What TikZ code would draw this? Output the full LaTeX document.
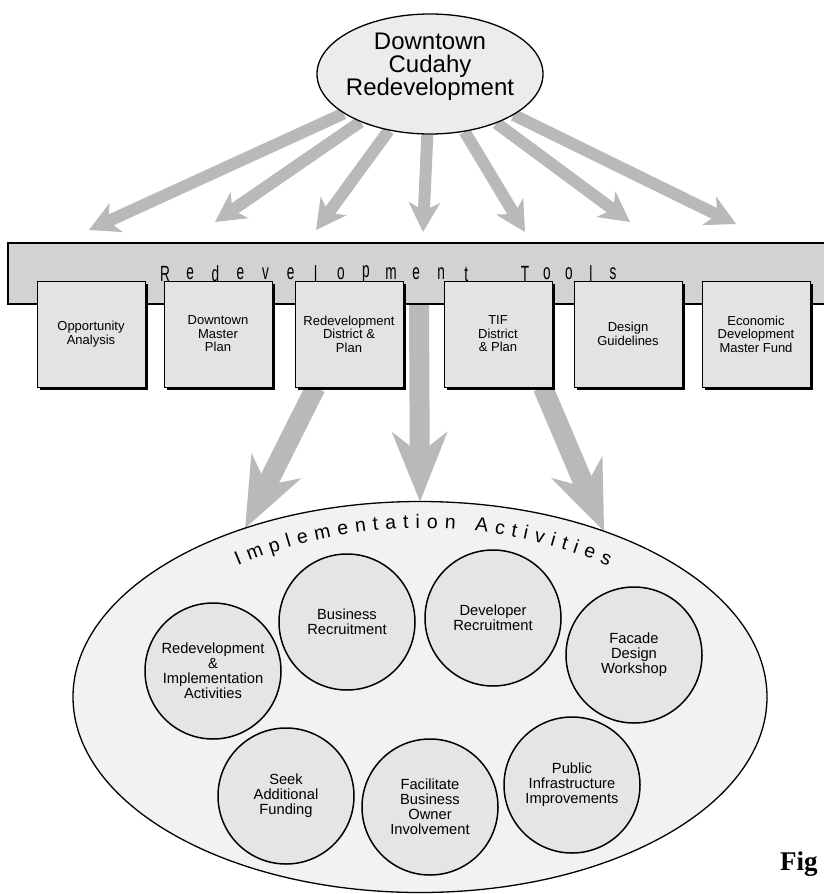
\documentclass[tikz,border=0pt]{standalone}
\usepackage{fontspec}
\setmainfont{Liberation Sans}
\newfontfamily\barfont[FakeStretch=0.62]{Liberation Sans}
\newfontfamily\figfont{Liberation Serif}
\usepackage{tikz}
\usetikzlibrary{calc, backgrounds, shapes.geometric, arrows.meta, shadows, decorations.text}
\usepackage{tkz-euclide}

\newcommand{\implfont}{\fontsize{19.5}{19.5}\selectfont}
\tikzset{
  toolbox/.style={rectangle, draw, line width=1pt, fill=gray!22, minimum width=108pt, minimum height=106pt, inner sep=1pt, align=center, font=\fontsize{13}{13.5}\selectfont, drop shadow={shadow xshift=2.5pt, shadow yshift=-2.5pt, fill=black, opacity=1}},
  actcircle/.style={circle, draw, line width=1.5pt, fill=gray!20, minimum size=136pt, inner sep=0pt, align=center, font=\fontsize{14.7}{15}\selectfont},
  fatarrow/.style={draw=gray!55, line width=12pt, -{Stealth[length=30pt, width=32pt, inset=9pt, line width=0pt]}},
  bigarrow/.style={draw=gray!55, line width=20pt, -{Stealth[length=70pt, width=56pt, inset=22pt, line width=0pt]}},
  barletter/.style={font=\barfont\fontsize{22}{22}\selectfont, inner sep=0pt}
}

\begin{document}
\begin{tikzpicture}[x=1pt, y=1pt]
        \useasboundingbox (0,0) rectangle (824,-894);
        \node[ellipse, draw, line width=1.3pt, fill=gray!15, minimum width=226pt, minimum height=120pt, inner sep=0pt] (top) at (430,-74) {};
        \node[align=center, font=\fontsize{24}{23}\selectfont, inner sep=0pt] (toptxt) at ($(top)+(0,7)$) {Downtown\\Cudahy\\Redevelopment};

        \node[draw, line width=1.2pt, fill=gray!35, minimum width=822pt, minimum height=61pt, inner sep=0pt] (bar) at (419,-273.5) {};
        \foreach \ch [count=\i] in {R,e,d,e,v,e,l,o,p,m,e,n,t} \node[barletter] (rl\i) at (140+25.1*\i,-274) {\ch};
        \foreach \ch [count=\i] in {T,o,o,l,s} \node[barletter] (tl\i) at (503+22*\i,-274) {\ch};

        \node[toolbox] (b1) at (91,-334) {Opportunity\\Analysis};
        \node[toolbox] (b2) at (218,-334) {Downtown\\Master\\Plan};
        \node[toolbox] (b3) at (349,-334) {Redevelopment\\District \&\\Plan};
        \node[toolbox] (b4) at (498,-334) {TIF\\District\\\& Plan};
        \node[toolbox] (b5) at (628,-334) {Design\\Guidelines};
        \node[toolbox] (b6) at (756,-334) {Economic\\Development\\Master Fund};

        \node[ellipse, draw, line width=1.3pt, fill=gray!10, minimum width=694pt, minimum height=391pt, inner sep=0pt, outer sep=0pt] (impl) at (420,-697) {};
        \path[decorate, decoration={text along path, text={|\implfont|Implementation Activities}, text align={fit to path}}] (237.8,-565.7) arc[start angle=113, end angle=67, radius=474];

        \node[actcircle] (c1) at (213,-671) {Redevelopment\\\&\\Implementation\\Activities};
        \node[actcircle] (c2) at (347,-622) {Business\\Recruitment};
        \node[actcircle] (c3) at (493,-618) {Developer\\Recruitment};
        \node[actcircle] (c4) at (634,-655) {Facade\\Design\\Workshop};
        \node[actcircle] (c5) at (286,-796) {Seek\\Additional\\Funding};
        \node[actcircle] (c6) at (430,-807) {Facilitate\\Business\\Owner\\Involvement};
        \node[actcircle] (c7) at (572,-785) {Public\\Infrastructure\\Improvements};

        \node[font=\figfont\bfseries\fontsize{27}{27}\selectfont, anchor=base west, inner sep=0pt] (fig) at (780,-870) {Fig};

        \tkzDefPoints{89/-230/tA,215/-222/tB,316/-230/tC,423/-232/tD,525/-232/tE,630/-222/tF,736/-224/tG}
        \begin{scope}[on background layer]
        \fill[white] (0,0) rectangle (824,-894);
        \foreach \p in {tA,tB,tC,tD,tE,tF,tG} \draw[fatarrow] (top) -- (\p);
        \draw[bigarrow] (b3.238) -- (impl.136);
        \draw[bigarrow] (bar.south) -- (impl.north);
        \draw[bigarrow] (b4.310) -- (impl.42);
        \end{scope}
\end{tikzpicture}
\end{document}
